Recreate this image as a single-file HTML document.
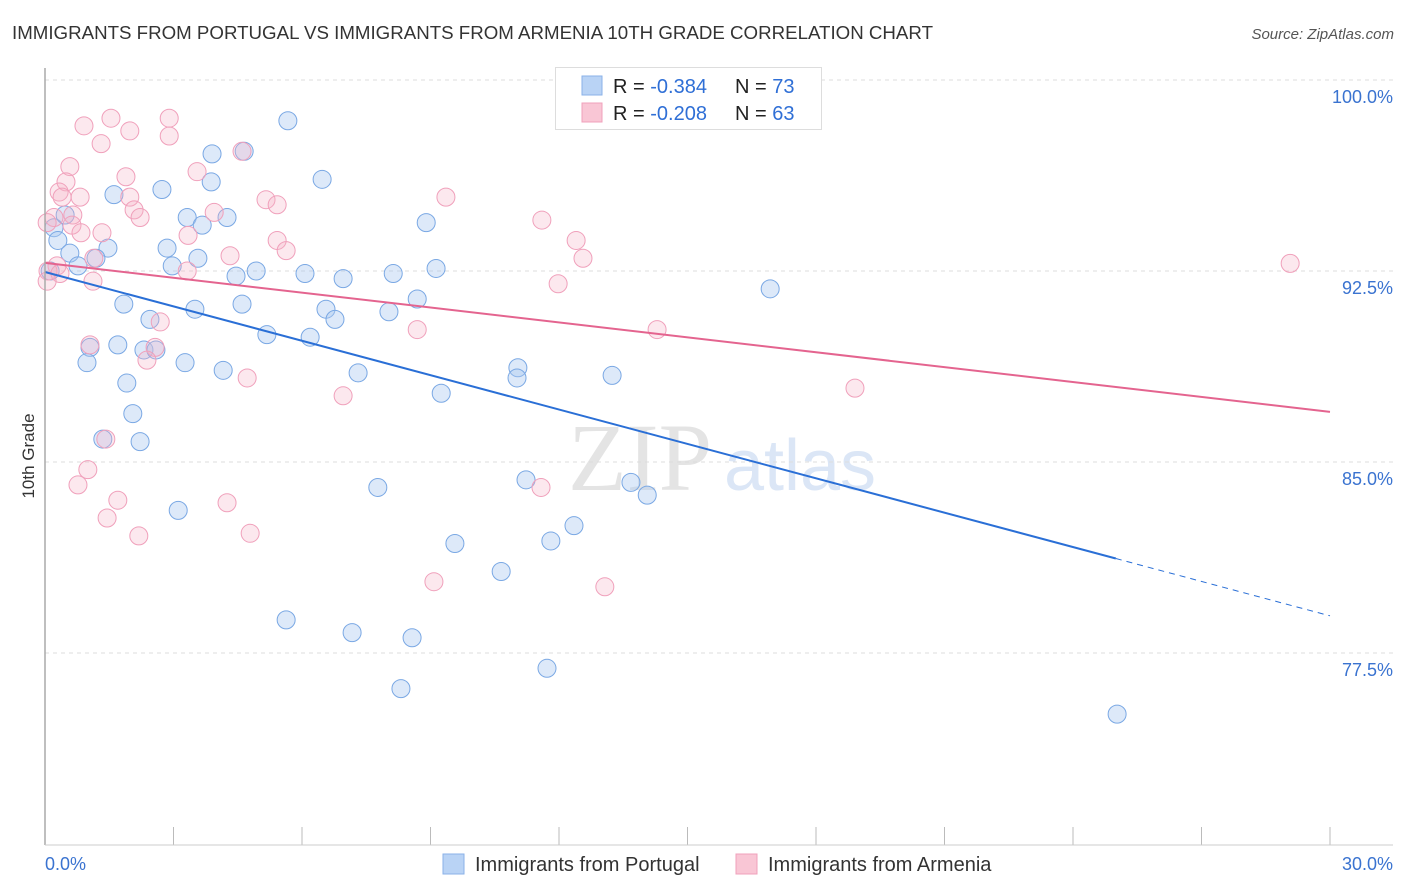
<!DOCTYPE html>
<html><head><meta charset="utf-8"><style>
body{margin:0;background:#fff;font-family:"Liberation Sans",sans-serif}
svg{display:block}
</style></head><body>
<svg id="c" width="1406" height="892" xmlns="http://www.w3.org/2000/svg">
<text x="12" y="39" font-size="18" fill="#333" textLength="921" lengthAdjust="spacingAndGlyphs">IMMIGRANTS FROM PORTUGAL VS IMMIGRANTS FROM ARMENIA 10TH GRADE CORRELATION CHART</text>
<text x="1394" y="39" font-size="15" fill="#555" font-style="italic" text-anchor="end">Source: ZipAtlas.com</text>
<text x="640" y="490" font-size="96" fill="#e4e4e4" font-family="Liberation Serif,serif" text-anchor="middle">ZIP</text>
<text x="800" y="490" font-size="72" fill="#dbe6f6" text-anchor="middle">atlas</text>
<text x="34" y="456" font-size="17" fill="#333" text-anchor="middle" transform="rotate(-90 34 456)">10th Grade</text>
<g id="grid"></g><g id="pts"></g><g id="lines"></g>
<line x1="45" y1="68" x2="45" y2="845" stroke="#aaa" stroke-width="1.5"/>
<line x1="45" y1="845" x2="1393" y2="845" stroke="#ccc"/>
<text x="45" y="870" font-size="18" fill="#3a73d0">0.0%</text>
<text x="1393" y="870" font-size="18" fill="#3a73d0" text-anchor="end">30.0%</text>
<g>
<rect x="555.5" y="67.5" width="266" height="62" fill="#fff" stroke="#ddd"/>
<rect x="582" y="76" width="20" height="19" fill="#b9d3f5" stroke="#8ab2e8"/>
<rect x="582" y="103" width="20" height="19" fill="#f9c6d5" stroke="#f0a0bb"/>
<text x="613" y="93" font-size="20" fill="#222">R = <tspan fill="#2f6fd6">-0.384</tspan><tspan x="735">N = </tspan><tspan fill="#2f6fd6">73</tspan></text>
<text x="613" y="120" font-size="20" fill="#222">R = <tspan fill="#2f6fd6">-0.208</tspan><tspan x="735">N = </tspan><tspan fill="#2f6fd6">63</tspan></text>
</g>
<g>
<rect x="443" y="854" width="21" height="20" fill="#b9d3f5" stroke="#8ab2e8"/>
<text x="475" y="871" font-size="20" fill="#333">Immigrants from Portugal</text>
<rect x="736" y="854" width="21" height="20" fill="#f9c6d5" stroke="#f0a0bb"/>
<text x="768" y="871" font-size="20" fill="#333">Immigrants from Armenia</text>
</g>
</svg>
<script>
const yTicks=[100,92.5,85,77.5];
const yTickLabels=["100.0%","92.5%","85.0%","77.5%"];
const xTicks=[0,3,6,9,12,15,18,21,24,27,30];
const portugalX=[13.8,16.7,5.67,3.90,4.65,6.47,3.88,1.61,2.73,3.32,4.25,3.67,8.90,0.21,0.47,0.30,0.58,1.47,2.85,1.19,3.57,0.12,0.77,2.97,4.46,4.93,6.07,6.96,8.13,9.13,8.69,8.03,1.84,3.50,4.60,6.56,6.77,2.45,5.18,6.19,16.93,1.70,1.05,2.31,2.59,0.98,3.27,4.16,7.31,11.04,11.02,13.24,1.91,9.25,2.05,1.35,2.22,7.77,11.23,13.68,14.06,3.11,12.35,9.57,11.81,10.65,5.63,7.17,8.57,11.72,8.31,25.03];
const portugalY=[100.0,100.0,98.4,97.1,97.2,96.1,96.0,95.5,95.7,94.6,94.6,94.3,94.4,94.2,94.7,93.7,93.2,93.4,93.4,93.0,93.0,92.5,92.7,92.7,92.3,92.5,92.4,92.2,92.4,92.6,91.4,90.9,91.2,91.0,91.2,91.0,90.6,90.6,90.0,89.9,91.8,89.6,89.5,89.4,89.4,88.9,88.9,88.6,88.5,88.7,88.3,88.4,88.1,87.7,86.9,85.9,85.8,84.0,84.3,84.2,83.7,83.1,82.5,81.8,81.9,80.7,78.8,78.3,78.1,76.9,76.1,75.1];
const armeniaX=[2.90,1.54,0.91,1.98,2.90,1.31,4.60,0.58,1.89,3.55,0.49,0.33,0.82,0.40,1.98,5.16,9.36,5.42,2.08,2.22,3.95,0.21,0.65,0.05,0.63,1.33,0.84,11.60,5.42,12.40,3.34,4.32,5.63,1.14,12.56,0.28,0.07,3.32,0.35,1.12,11.98,29.07,2.69,8.69,14.29,1.05,2.57,2.38,4.72,6.96,18.91,1.42,1.00,0.77,11.58,1.70,4.25,1.45,2.19,4.79,9.08,13.07,0.05];
const armeniaY=[98.5,98.5,98.2,98.0,97.8,97.5,97.2,96.6,96.2,96.4,96.0,95.6,95.4,95.4,95.4,95.3,95.4,95.1,94.9,94.6,94.8,94.6,94.7,94.4,94.3,94.0,94.0,94.5,93.7,93.7,93.9,93.1,93.3,93.0,93.0,92.7,92.5,92.5,92.4,92.1,92.0,92.8,90.5,90.2,90.2,89.6,89.5,89.0,88.3,87.6,87.9,85.9,84.7,84.1,84.0,83.5,83.4,82.8,82.1,82.2,80.3,80.1,92.1];
const portugalTrend=[92.46,78.96]; const portugalSolidEnd=25.0;
const armeniaTrend=[92.82,86.97];
const NS="http://www.w3.org/2000/svg";
const sx=v=>45+v*1285/30, sy=v=>80+(100-v)*191/7.5;
function mk(t,a,p){const e=document.createElementNS(NS,t);for(const k in a)e.setAttribute(k,a[k]);p.appendChild(e);return e;}
const grid=document.getElementById('grid');
yTicks.forEach((t,i)=>{
  const l=mk('line',{x1:45,x2:1393,y1:sy(t),y2:sy(t),stroke:'#ddd','stroke-dasharray':'4 4'},grid);
  
  
  const tx=mk('text',{x:1393,y:sy(t)+23,'font-size':18,fill:'#3a73d0','text-anchor':'end'},grid);
  tx.textContent=yTickLabels[i];
  
  
});
xTicks.forEach(t=>{
  const l=mk('line',{x1:sx(t),x2:sx(t),y1:827,y2:845,stroke:'#bbb'},grid);
  
  
});
const pts=document.getElementById('pts');
portugalX.forEach((x,i)=>{
  const c=mk('circle',{cx:sx(x),cy:sy(portugalY[i]),r:9,fill:'rgba(170,200,240,0.4)',stroke:'#7aa8e4','stroke-width':1},pts);
  
  
});
armeniaX.forEach((x,i)=>{
  const c=mk('circle',{cx:sx(x),cy:sy(armeniaY[i]),r:9,fill:'rgba(246,180,200,0.3)',stroke:'#f0a0bb','stroke-width':1},pts);
  
  
});
const ln=document.getElementById('lines');
const py=x=>portugalTrend[0]+(portugalTrend[1]-portugalTrend[0])*x/30;
let a=mk('line',{x1:sx(0),y1:sy(py(0)),x2:sx(portugalSolidEnd),y2:sy(py(portugalSolidEnd)),stroke:'#2a6fd6','stroke-width':2},ln);


a=mk('line',{x1:sx(portugalSolidEnd),y1:sy(py(portugalSolidEnd)),x2:sx(30),y2:sy(py(30)),stroke:'#2a6fd6','stroke-width':1,'stroke-dasharray':'6 5'},ln);


a=mk('line',{x1:sx(0),y1:sy(armeniaTrend[0]),x2:sx(30),y2:sy(armeniaTrend[1]),stroke:'#e4648f','stroke-width':2},ln);


</script>
</body></html>
